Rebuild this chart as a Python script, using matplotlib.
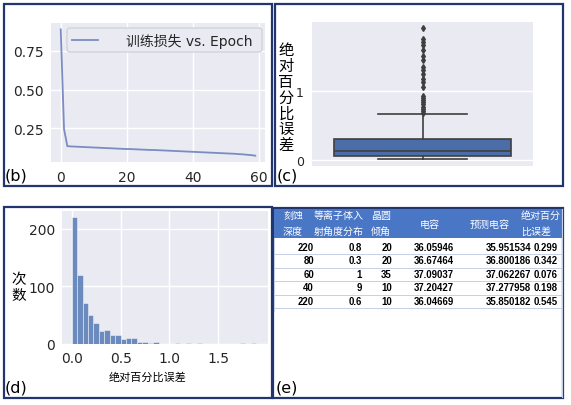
import matplotlib
matplotlib.use('Agg')
import matplotlib.pyplot as plt
from matplotlib.patches import Rectangle, FancyBboxPatch

W, H, DPI = 571, 406, 100

# ---------------- data ----------------
epochs = list(range(60))
train_loss = [0.890, 0.245, 0.135, 0.133, 0.132, 0.131, 0.130, 0.129, 0.128, 0.127,
              0.126, 0.125, 0.124, 0.123, 0.122, 0.121, 0.120, 0.119, 0.118, 0.117,
              0.116, 0.116, 0.115, 0.114, 0.113, 0.112, 0.111, 0.110, 0.110, 0.109,
              0.108, 0.107, 0.106, 0.105, 0.104, 0.103, 0.102, 0.101, 0.100, 0.099,
              0.098, 0.097, 0.096, 0.095, 0.094, 0.093, 0.092, 0.091, 0.090, 0.089,
              0.088, 0.087, 0.086, 0.085, 0.083, 0.082, 0.080, 0.078, 0.076, 0.073]
loss_label = '训练损失 vs. Epoch'
b_xticks = [0, 20, 40, 60]
b_yticks = [0.25, 0.50, 0.75]

box_q1, box_med, box_q3 = 0.057, 0.133, 0.300
box_whislo, box_whishi = 0.02, 0.66
box_fliers = [0.68, 0.71, 0.74, 0.77, 0.80, 0.83, 0.86, 0.89, 0.92,
              1.05, 1.12, 1.17, 1.23, 1.29, 1.34, 1.43, 1.50, 1.58, 1.65, 1.70, 1.74, 1.89]
box_ylabel = '绝对百分比误差'
c_yticks = [0, 1]

hist_bin_width = 0.0556
hist_counts = [220, 120, 71, 50, 37, 23, 25, 15, 16, 8, 11, 11, 4, 3, 1, 3, 0, 0, 0, 1,
               0, 1, 0, 1, 0, 0, 0, 0, 0, 0, 0, 2, 0, 1]
hist_xlabel = '绝对百分比误差'
hist_ylabel = '次数'
d_xticks = [0.0, 0.5, 1.0, 1.5]
d_yticks = [0, 100, 200]

tbl_headers = ['刻蚀\n深度', '等离子体入\n射角度分布', '晶圆\n倾角', '电容', '预测电容', '绝对百分\n比误差']
etch_depth = ['220', '80', '60', '40', '220']
plasma_angle = ['0.8', '0.3', '1', '9', '0.6']
wafer_tilt = ['20', '20', '35', '10', '10']
capacitance = ['36.05946', '36.67464', '37.09037', '37.20427', '36.04669']
pred_cap = ['35.951534', '36.800186', '37.062267', '37.277958', '35.850182']
ape = ['0.299', '0.342', '0.076', '0.198', '0.545']

panel_labels = ['(b)', '(c)', '(d)', '(e)']

# ---------------- style ----------------
BG = '#EAEAF2'
CJK = ['Noto Sans CJK SC', 'DejaVu Sans']
MIX = ['DejaVu Sans', 'Noto Sans CJK SC']
plt.rcParams['font.family'] = MIX


def px_axes(fig, x0, y0, x1, y1):
    return fig.add_axes([x0 / W, 1 - y1 / H, (x1 - x0) / W, (y1 - y0) / H])


def style(ax, fs, pad):
    ax.set_facecolor(BG)
    for s in ax.spines.values():
        s.set_visible(False)
    ax.grid(True, color='white', linewidth=1.0)
    ax.set_axisbelow(True)
    ax.tick_params(length=0, labelsize=fs, pad=pad, colors='#262626')


fig = plt.figure(figsize=(W / DPI, H / DPI), dpi=DPI)
fig.patch.set_facecolor('white')

# ---- (b) loss curve ----
axb = px_axes(fig, 51, 24, 265, 163)
style(axb, 10, 5.5)
line_color = '#7a8cc2'
axb.plot(epochs, train_loss, color=line_color, lw=1.3, label=loss_label)
axb.set_xticks(b_xticks)
axb.set_yticks(b_yticks)
axb.set_yticklabels(['%.2f' % v for v in b_yticks])

# ---- (c) boxplot ----
axc = px_axes(fig, 312, 23, 533, 167)
style(axc, 9, 6)
stats = [dict(q1=box_q1, med=box_med, q3=box_q3, whislo=box_whislo,
              whishi=box_whishi, fliers=box_fliers)]
gray = '#3f3f3f'
axc.bxp(stats, positions=[0], widths=0.8, patch_artist=True, showfliers=True,
        boxprops=dict(facecolor='#4c6ea8', edgecolor=gray, linewidth=1.2),
        medianprops=dict(color=gray, linewidth=1.2),
        whiskerprops=dict(color=gray, linewidth=1.2),
        capprops=dict(color=gray, linewidth=1.2),
        flierprops=dict(marker='d', markersize=3.0, markerfacecolor=gray,
                        markeredgecolor=gray))
axc.set_xlim(-0.5, 0.5)
axc.set_ylim(-0.08, 1.98)
axc.set_xticks([])
axc.set_yticks(c_yticks)
axc.xaxis.grid(False)

# ---- (d) histogram ----
axd = px_axes(fig, 62, 212, 268, 345)
style(axd, 10, 5)
edges = [i * hist_bin_width for i in range(len(hist_counts))]
axd.bar(edges, hist_counts, width=hist_bin_width, align='edge', color='#4C72B0',
        alpha=0.8, edgecolor='white', linewidth=0.4)
axd.set_xlim(-0.1, 2.01)
axd.set_ylim(0, 231)
axd.set_xticks(d_xticks)
axd.set_xticklabels(['%.1f' % v for v in d_xticks])
axd.set_yticks(d_yticks)

# ---- overlay (pixel coordinates) ----
ov = fig.add_axes([0, 0, 1, 1], zorder=10)
ov.set_xlim(0, W)
ov.set_ylim(H, 0)
ov.axis('off')
ov.patch.set_alpha(0)

# legend of (b)
ov.add_patch(FancyBboxPatch((67, 29), 195, 24, boxstyle='round,pad=0,rounding_size=3',
                            facecolor=BG, edgecolor='#cfcfd8', lw=0.9))
ov.plot([72, 98], [41, 41], color=line_color, lw=1.3)
ov.text(126, 41.5, axb.get_lines()[0].get_label(), fontsize=10, family=MIX,
        ha='left', va='center', color='#262626')

navy = '#22356e'
for (x0, y0, x1, y1) in [(4, 5, 272, 187), (275, 5, 563, 187), (4, 208, 272, 399), (273, 209, 563, 399)]:
    ov.add_patch(Rectangle((x0, y0), x1 - x0, y1 - y0, fill=False, edgecolor=navy, lw=1.6))

for lab, (x, y) in zip(panel_labels, [(5, 176), (277, 176), (5, 388), (276, 388)]):
    ov.text(x, y, lab, fontsize=11.5, family='DejaVu Sans', ha='left', va='center', color='black')

# stacked y-label for (c)
for i, ch in enumerate(box_ylabel):
    ov.text(286, 51 + i * 15.7, ch, family=CJK, fontsize=11, ha='center', va='center')
# stacked y-label for (d)
for i, ch in enumerate(hist_ylabel):
    ov.text(19, 280 + i * 16, ch, family=CJK, fontsize=10.5, ha='center', va='center')
# x-label for (d)
ov.text(148, 378, hist_xlabel, family=CJK, fontsize=8, ha='center', va='center')

# ---- (e) table ----
ov.add_patch(Rectangle((274, 210), 288, 29, facecolor='#4a76c6', edgecolor='none'))
ov.plot([274, 274], [239, 312], color='#c5d0e6', lw=0.8)
ov.plot([562, 562], [210, 398], color='#c5d0e6', lw=0.8)
hdr_x = [293, 339, 381, 430, 490, 521]
hdr_ha = ['center', 'center', 'center', 'center', 'center', 'left']
for txt, x, ha in zip(tbl_headers, hdr_x, hdr_ha):
    lines = txt.split('\n')
    if len(lines) == 2:
        ov.text(x, 216, lines[0], family=CJK, fontsize=7.2, color='white', ha=ha, va='center')
        ov.text(x, 232, lines[1], family=CJK, fontsize=7.2, color='white', ha=ha, va='center')
    else:
        ov.text(x, 225, lines[0], family=CJK, fontsize=7.2, color='white', ha=ha, va='center')

cols = [etch_depth, plasma_angle, wafer_tilt, capacitance, pred_cap, ape]
val_x = [314, 362, 392, 454, 531, 558]
for r in range(len(etch_depth)):
    y = 248 + r * 13.5
    for col, x in zip(cols, val_x):
        ov.text(x, y, col[r], family='Liberation Sans', fontweight='bold', fontsize=6.9,
                ha='right', va='center', color='black')
    ov.plot([274, 562], [y + 7, y + 7], color='#c5d0e6', lw=0.7)

fig.savefig('out.png', dpi=DPI, facecolor='white')
